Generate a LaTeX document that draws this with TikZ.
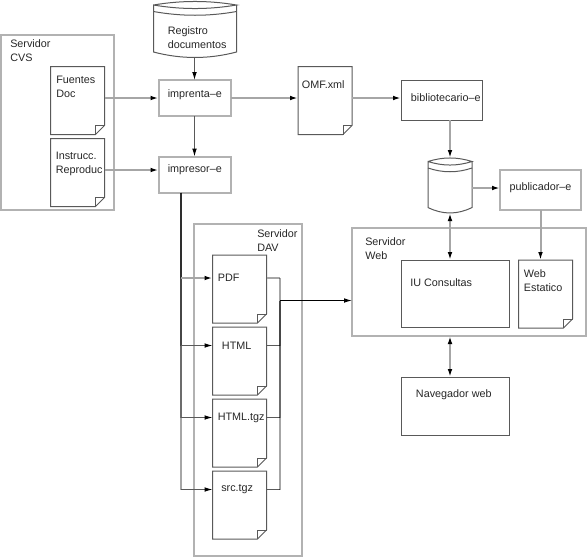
\documentclass[tikz,border=0pt]{standalone}
\usepackage{fontspec}
\setmainfont{Liberation Sans}
\usetikzlibrary{positioning, calc, arrows.meta}

\def\pxu{0.75pt}

\newcommand{\docsheet}[2]{
    \node[docbox] (#1) at (#2) {};
    \draw[thinline] (#1.north west) -- (#1.north east) -- ($(#1.south east)+(0,-9)$) -- ($(#1.south east)+(-9,0)$) -- (#1.south west) -- cycle;
    \draw[thinline] ($(#1.south east)+(0,-9)$) -- ++(-9,0) -- ++(0,9);
}

\newcommand{\dbstore}[4]{
    \node[dbbox, minimum width=#3*\pxu, minimum height=#4*\pxu] (#1) at (#2) {};
    \coordinate (#1a) at ($(#1.north west)+(0,3.5)$);
    \coordinate (#1b) at ($(#1.north east)+(0,3.5)$);
    \coordinate (#1c) at ($(#1.south west)+(0,-5.5)$);
    \coordinate (#1d) at ($(#1.south east)+(0,-5.5)$);
    \draw[thinline] (#1a) .. controls +({#3/3},-4.7) and +({-#3/3},-4.7) .. (#1b)
        .. controls +({-#3/3},4.7) and +({#3/3},4.7) .. (#1a) -- (#1c)
        .. controls +({#3/3},7.3) and +({-#3/3},7.3) .. (#1d) -- (#1b);
    \draw[thinline] ($(#1a)+(0,6.5)$) .. controls +({#3/3},5) and +({-#3/3},5) .. ($(#1b)+(0,6.5)$);
}

\begin{document}
\begin{tikzpicture}[x=\pxu, y=-\pxu,
        >={Latex[length=6pt, width=3.5pt, black]},
        thinline/.style={line width=0.75pt, black!65},
        wideline/.style={line width=1.5pt, black!35},
        stackline/.style={line width=1.5pt, black, opacity=0.35},
        thinbox/.style={draw, thinline, inner sep=0pt, outer sep=0pt},
        widebox/.style={draw, line width=1.5pt, black!30, inner sep=0pt, outer sep=0pt},
        docbox/.style={anchor=north west, inner sep=0pt, outer sep=0pt, minimum width=54*\pxu, minimum height=68*\pxu},
        dbbox/.style={inner sep=0pt, outer sep=0pt},
        lab/.style={font=\fontsize{8.1}{10.5}\selectfont, align=left, anchor=west, inner sep=0pt, text=black!85},
        conn/.style={thinline, ->},
        wideconn/.style={wideline, ->}
    ]

    \useasboundingbox (0,0) rectangle (587,558);

    \node[widebox, minimum width=112.5*\pxu, minimum height=175*\pxu] (cvs) at (57.25,122.5) {};
    \node[widebox, minimum width=108*\pxu, minimum height=332*\pxu] (dav) at (248,390) {};
    \node[widebox, minimum width=234*\pxu, minimum height=108*\pxu] (web) at (469,282) {};

    \node[lab] (cvslab) at (10,51) {Servidor\\CVS};
    \node[lab] (davlab) at (257,240.5) {Servidor\\DAV};
    \node[lab] (weblab) at (365,249) {Servidor\\Web};

    \docsheet{fuentes}{50.5,66.5}
    \docsheet{instrucc}{50.5,138.5}
    \docsheet{omf}{298,66.5}
    \docsheet{pdf}{212.5,255}
    \docsheet{html}{212.5,327}
    \docsheet{htmltgz}{212.5,399}
    \docsheet{srctgz}{212.5,471}
    \docsheet{estatico}{518.5,260}

    \dbstore{registro}{195,29.5}{83}{56}
    \dbstore{almacen}{450,185.5}{44}{55}

    \node[widebox, minimum width=72*\pxu, minimum height=36*\pxu] (imprenta) at (194.5,98) {};
    \node[widebox, minimum width=72*\pxu, minimum height=36*\pxu] (impresor) at (194.5,174.5) {};
    \node[thinbox, minimum width=81*\pxu, minimum height=40*\pxu] (biblio) at (441.5,100) {};
    \node[widebox, minimum width=81*\pxu, minimum height=40*\pxu] (publicador) at (540.5,190) {};
    \node[thinbox, minimum width=108*\pxu, minimum height=67.5*\pxu] (iu) at (455,293.75) {};
    \node[thinbox, minimum width=108*\pxu, minimum height=58*\pxu] (navegador) at (455,406) {};

    \node[lab] (fuenteslab) at (56,87) {Fuentes\\Doc};
    \node[lab] (instrucclab) at (55.5,163.5) {Instrucc.\\Reproduc};
    \node[lab] (registrolab) at (167.5,37.5) {Registro\\documentos};
    \node[lab] (imprentalab) at (167.5,95) {imprenta--e};
    \node[lab] (impresorlab) at (167.5,170) {impresor--e};
    \node[lab] (omflab) at (301.7,85) {OMF.xml};
    \node[lab] (bibliolab) at (410.7,98) {bibliotecario--e};
    \node[lab] (publicadorlab) at (509.3,188) {publicador--e};
    \node[lab] (iulab) at (410,283) {IU Consultas};
    \node[lab] (estaticolab) at (523.7,280.5) {Web\\Estatico};
    \node[lab] (navegadorlab) at (415.7,395) {Navegador web};
    \node[lab] (pdflab) at (217.7,278) {PDF};
    \node[lab] (htmllab) at (221.7,345.5) {HTML};
    \node[lab] (htmltgzlab) at (217.5,417.5) {HTML.tgz};
    \node[lab] (srctgzlab) at (221,489.5) {src.tgz};

    \coordinate (trunk) at (181,192.5);
    \coordinate (junction) at (280,300.5);

    \draw[conn] (registro.south -| imprenta) -- (imprenta.north);
    \draw[conn] (imprenta.south) -- (impresor.north);
    \draw[wideconn] (fuentes.east |- imprenta) -- (imprenta.west);
    \draw[wideconn] (instrucc.east |- impresorlab) -- (impresor.west |- impresorlab);
    \draw[wideconn] (imprenta.east) -- (omf.west |- imprenta);
    \draw[wideconn] (omf.east |- imprenta) -- (biblio.west |- imprenta);
    \draw[wideconn] (biblio.south -| almacen) -- (almacen.north);
    \draw[wideconn] (almacen.east |- publicadorlab) -- (publicador.west |- publicadorlab);
    \draw[wideconn] (publicador.south) -- (publicador.south |- estatico.north);
    \draw[wideconn, <->] (almacen.south) -- (almacen.south |- iu.north);
    \draw[wideconn, <->] (almacen.south |- web.south) -- (almacen.south |- navegador.north);

    \draw[stackline] (trunk) -- (trunk |- pdflab);
    \draw[stackline] (trunk) -- (trunk |- htmllab);
    \draw[stackline] (trunk) -- (trunk |- htmltgzlab);
    \draw[stackline] (trunk) -- (trunk |- srctgzlab);
    \draw[wideconn] (trunk |- pdflab) -- (pdf.west |- pdflab);
    \draw[conn] (trunk |- htmllab) -- (html.west |- htmllab);
    \draw[conn] (trunk |- htmltgzlab) -- (htmltgz.west |- htmltgzlab);
    \draw[conn] (trunk |- srctgzlab) -- (srctgz.west |- srctgzlab);

    \draw[wideline] (pdf.east |- pdflab) -- (junction |- pdflab);
    \draw[thinline] (html.east |- htmllab) -- (junction |- htmllab);
    \draw[thinline] (htmltgz.east |- htmltgzlab) -- (junction |- htmltgzlab);
    \draw[thinline] (srctgz.east |- srctgzlab) -- (junction |- srctgzlab);
    \draw[stackline] (junction |- pdflab) -- (junction);
    \draw[stackline] (junction |- htmllab) -- (junction);
    \draw[stackline] (junction |- htmltgzlab) -- (junction);
    \draw[stackline] (junction |- srctgzlab) -- (junction);
    \draw[line width=0.75pt, black, ->] (junction) -- (web.west |- junction);

\end{tikzpicture}
\end{document}
